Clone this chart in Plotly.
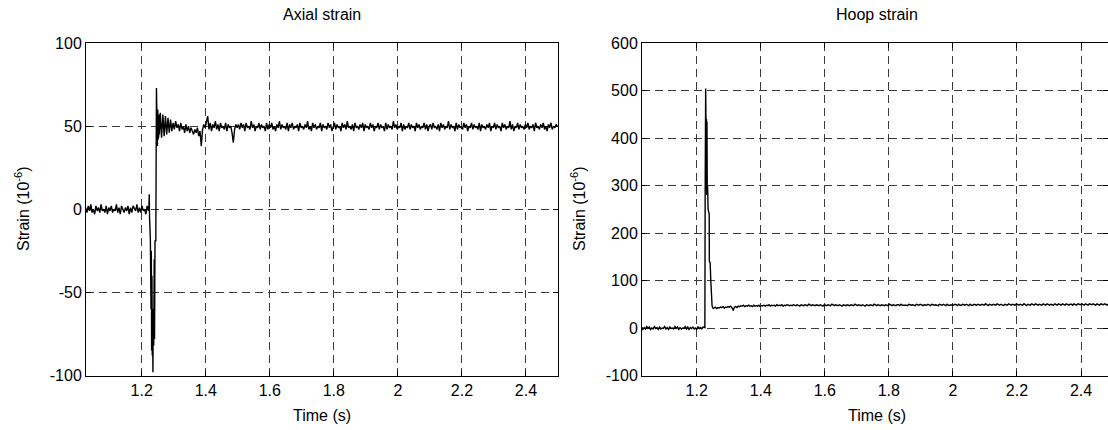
import numpy as np
import plotly.graph_objects as go

# ---------------- Axial strain data ----------------
axial_pre_t0, axial_pre_dt = 1.025, 0.004
axial_pre = [1, -2, 2, -1, 3, -2, 0, -3, 2, -1, 1, -2, 3, -1, 0, -2, 2, -3, 1, -1,
             2, -2, 0, -1, 3, -2, 1, -3, 2, 0, -2, 1, -1, 2, -3, 1, -2, 2, 0, -1,
             3, -2, 1, -2, 2, -1, 0, -3, 2, -1]

axial_tr_t = [1.2225, 1.2235, 1.2245, 1.2270, 1.2290, 1.2300, 1.2310, 1.2320, 1.2330,
              1.2340, 1.2350, 1.2360, 1.2375, 1.2390, 1.2400, 1.2415, 1.2440, 1.2460,
              1.2470, 1.2480, 1.2490, 1.2500, 1.2510, 1.2520, 1.2530, 1.2540, 1.2550]
axial_tr_v = [1, 9, -5, -18, -60, -25, -85, -40, -88,
              -70, -98, -60, -82, -30, -78, -19, -19, 73,
              40, 65, 38, 60, 42, 58, 44, 57, 45]

axial_post_t0, axial_post_dt = 1.258, 0.004
axial_post = [
    58, 43, 57, 44, 56, 45, 55, 46, 54, 47,
    52, 48, 53, 49, 51, 47, 52, 48, 50, 46, 51, 47, 50, 46, 49,
    47, 45, 48, 46, 49, 44, 47, 38, 48, 51, 49,
    53, 56, 48, 52, 47, 51, 49, 53, 48, 51, 47, 52, 49, 50, 48, 52, 47, 51, 49, 50, 46, 40, 48, 51, 49,
    51, 48, 52, 49, 51, 47, 52, 49, 50, 48, 53, 49, 51, 47, 50, 49, 52, 48, 51, 49, 50, 47, 52, 48, 51,
    49, 52, 48, 50, 47, 51, 49, 53, 48, 51, 49, 50, 48, 52, 47, 51, 49, 52, 48, 50, 49, 51, 47, 52, 49,
    50, 48, 51, 49, 53, 48, 50, 47, 52, 49, 51, 48, 50, 49, 52, 47, 51, 49, 50, 48, 52, 49, 51, 47, 50,
    52, 48, 51, 49, 50, 47, 52, 49, 51, 48, 53, 49, 50, 48, 51, 47, 52, 49, 50, 48, 51, 49, 52, 47, 51,
    49, 50, 48, 52, 49, 51, 47, 50, 49, 52, 48, 51, 49, 50, 47, 52, 48, 51, 49, 50, 48, 53, 49, 51, 48,
    50, 49, 52, 47, 51, 48, 50, 49, 52, 48, 51, 49, 50, 47, 52, 49, 51, 48, 50, 49, 52, 48, 51, 47, 50,
    51, 48, 52, 49, 50, 48, 51, 47, 52, 49, 51, 48, 50, 49, 53, 48, 51, 49, 50, 47, 52, 48, 51, 49, 50,
    48, 52, 49, 51, 47, 50, 49, 52, 48, 51, 49, 50, 48, 52, 47, 51, 49, 50, 48, 51, 49, 52, 47, 50, 49,
    52, 48, 51, 49, 50, 47, 52, 49, 51, 48, 50, 49, 53, 48, 51, 47, 50, 49, 52, 48, 51, 49, 50, 48, 51,
    49, 52, 48, 50, 49, 51, 47, 52, 49, 50, 48, 51, 49, 52, 48, 50, 47, 51, 49, 52, 48, 50, 49, 51, 50]

# ---------------- Hoop strain data ----------------
hoop_pre_t0, hoop_pre_dt = 1.028, 0.004
hoop_pre = [2, -3, 1, -2, 3, -1, 2, -3, 0, -2, 3, -1, 1, -3, 2, -2, 0, -1, 3, -2,
            1, -3, 2, -1, 0, -2, 3, -1, 2, -3, 1, -2, 0, -1, 3, -2, 2, -3, 1, -1,
            2, -2, 0, -3, 3, -1, 1, -2, 2, 0]

hoop_tr_t = [1.2255, 1.2265, 1.2280, 1.2290, 1.2300, 1.2305, 1.2315, 1.2320, 1.2330,
             1.2340, 1.2355, 1.2375, 1.2390, 1.2395, 1.2420, 1.2440, 1.2460, 1.2480,
             1.2500, 1.2520]
hoop_tr_v = [1, 300, 504, 430, 290, 440, 280, 435, 285,
             300, 250, 245, 240, 140, 138, 100, 60, 47,
             43, 41]

hoop_post_t0, hoop_post_dt = 1.254, 0.004
hoop_post = [
    42, 44, 41, 43, 42, 44, 43, 45, 42, 44,
    43, 45, 44, 46, 43, 37, 44, 45, 43, 46,
    45, 47, 46, 48, 45, 47, 46, 48, 46, 47, 45, 48, 46, 47, 46, 48, 45, 47, 47, 48,
    46, 48, 47, 49, 46, 48, 47, 48, 46, 49, 47, 48, 47, 49, 46, 48, 47, 49, 48, 47,
    48, 47, 49, 48, 47, 49, 48, 46, 49, 48, 47, 49, 48, 47, 50, 48, 47, 49, 48, 47, 49,
    48, 47, 49, 48, 46, 49, 48, 47, 49, 48, 47, 50, 48, 47, 49, 48, 47, 49, 48, 46, 49,
    48, 47, 49, 48, 47, 49, 48, 47, 50, 48, 47, 49, 48, 47, 49, 48, 46, 49, 48, 47, 49,
    48, 47, 50, 48, 47, 49, 48, 47, 49, 48, 47, 49, 48, 47, 50, 48, 47, 49, 48, 47, 49,
    49, 47, 50, 48, 48, 49, 48, 47, 50, 49, 48, 49, 48, 47, 50, 49, 48, 50, 48, 47, 49,
    49, 48, 50, 48, 47, 50, 49, 48, 49, 48, 47, 50, 49, 48, 50, 49, 47, 50, 48, 48, 49,
    49, 48, 50, 49, 47, 50, 48, 48, 50, 49, 48, 50, 49, 47, 50, 48, 48, 50, 49, 48, 50,
    49, 48, 50, 49, 48, 51, 49, 47, 50, 49, 48, 50, 49, 48, 51, 49, 48, 50, 49, 47, 50,
    49, 48, 51, 49, 48, 50, 49, 48, 51, 49, 48, 50, 49, 48, 51, 49, 47, 50, 49, 48, 51,
    50, 48, 51, 49, 48, 50, 49, 48, 51, 50, 48, 51, 49, 48, 50, 49, 48, 51, 50, 48, 51,
    49, 48, 51, 50, 48, 51, 49, 48, 50, 50, 48, 51, 49, 48, 51, 50, 49, 51, 49, 48, 51,
    50, 48, 51, 50, 49, 51, 49, 48, 51, 50, 48, 51, 50, 49, 51, 49, 48, 51, 50, 49, 51]

x_ticks = [1.2, 1.4, 1.6, 1.8, 2.0, 2.2, 2.4]
x_tick_text = ["1.2", "1.4", "1.6", "1.8", "2", "2.2", "2.4"]
axial_y_ticks = [-100, -50, 0, 50, 100]
axial_y_text = ["-100", "-50", "0", "50", "100"]
hoop_y_ticks = [-100, 0, 100, 200, 300, 400, 500, 600]
hoop_y_text = ["-100", "0", "100", "200", "300", "400", "500", "600"]


def sampled_times(t0, dt, n):
    return list(np.round(t0 + dt * np.arange(n), 4))


axial_t = (sampled_times(axial_pre_t0, axial_pre_dt, len(axial_pre)) + axial_tr_t
           + sampled_times(axial_post_t0, axial_post_dt, len(axial_post)))
axial_v = axial_pre + axial_tr_v + axial_post
hoop_t = (sampled_times(hoop_pre_t0, hoop_pre_dt, len(hoop_pre)) + hoop_tr_t
          + sampled_times(hoop_post_t0, hoop_post_dt, len(hoop_post)))
hoop_v = hoop_pre + hoop_tr_v + hoop_post

W, H = 1108, 430
FONT = "Liberation Sans, Arial, sans-serif"

fig = go.Figure()
fig.add_trace(go.Scatter(x=axial_t, y=axial_v, mode="lines",
                         line=dict(color="black", width=1.4), xaxis="x", yaxis="y",
                         showlegend=False, hoverinfo="skip"))
fig.add_trace(go.Scatter(x=hoop_t, y=hoop_v, mode="lines",
                         line=dict(color="black", width=1.4), xaxis="x2", yaxis="y2",
                         showlegend=False, hoverinfo="skip"))

ydom = [1 - 375.5 / H, 1 - 43 / H]
common_axis = dict(showline=True, linecolor="black", linewidth=1, mirror="ticks",
                   ticks="inside", ticklen=5, tickcolor="black",
                   showgrid=True, gridcolor="#3a3a3a", gridwidth=1, griddash="8px,5px",
                   zeroline=False, automargin=False,
                   tickfont=dict(family=FONT, size=16, color="black"))

fig.update_layout(
    width=W, height=H,
    margin=dict(l=0, r=0, t=0, b=0),
    paper_bgcolor="white", plot_bgcolor="white",
    font=dict(family=FONT, size=16, color="black"),
    xaxis=dict(domain=[86 / W, 558 / W], range=[1.026, 2.5], anchor="y",
               tickvals=x_ticks, ticktext=x_tick_text, **common_axis),
    yaxis=dict(domain=ydom, range=[-100, 100], anchor="x",
               tickvals=axial_y_ticks, ticktext=axial_y_text, **common_axis),
    xaxis2=dict(domain=[642 / W, 1.0], range=[1.0292, 2.4843], anchor="y2",
                tickvals=x_ticks, ticktext=x_tick_text, **common_axis),
    yaxis2=dict(domain=ydom, range=[-100, 600], anchor="x2",
                tickvals=hoop_y_ticks, ticktext=hoop_y_text, **common_axis),
)

ann = []
for cx, title in [(322, "Axial strain"), (877, "Hoop strain")]:
    ann.append(dict(x=cx / W, y=1 - 14 / H, xref="paper", yref="paper", text=title,
                    showarrow=False, xanchor="center", yanchor="middle",
                    font=dict(family=FONT, size=16)))
    ann.append(dict(x=cx / W, y=1 - 415 / H, xref="paper", yref="paper", text="Time (s)",
                    showarrow=False, xanchor="center", yanchor="middle",
                    font=dict(family=FONT, size=16)))
for lx in [22, 578]:
    ann.append(dict(x=lx / W, y=1 - 209 / H, xref="paper", yref="paper",
                    text="Strain (10<sup>-6</sup>)", textangle=-90,
                    showarrow=False, xanchor="center", yanchor="middle",
                    font=dict(family=FONT, size=16)))
fig.update_layout(annotations=ann)

fig.write_html("out.html", config={"displayModeBar": False},
               post_script="document.body.style.margin='0px';document.body.style.overflow='hidden';")
